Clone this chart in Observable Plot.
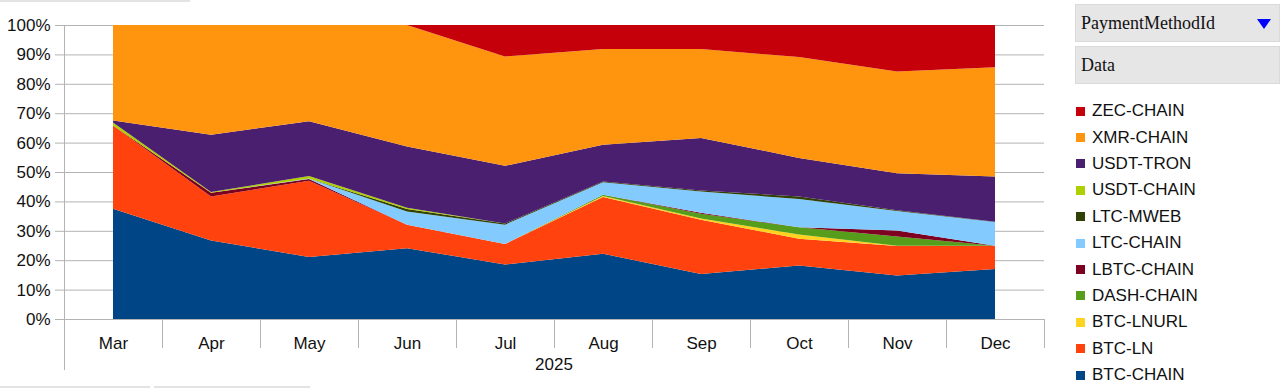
<!DOCTYPE html>
<html>
<head>
<meta charset="utf-8">
<script src="https://cdn.jsdelivr.net/npm/d3@7"></script>
<script src="https://cdn.jsdelivr.net/npm/@observablehq/plot@0.6"></script>
<style>
  html, body { margin: 0; padding: 0; background: #fff; }
  #wrap { position: relative; width: 1285px; height: 390px; overflow: hidden; font-family: "Liberation Sans", Arial, sans-serif; }
  #chart { position: absolute; left: 0; top: 0; }
  .box { position: absolute; left: 1075px; width: 205px; height: 38px; background: #e6e6e6; border: 1px solid #dadada; box-sizing: border-box;
         font-family: "Liberation Serif", serif; font-size: 18px; line-height: 36px; padding-left: 5px; color: #111; }
  .tri { position: absolute; right: 8px; top: 14px; width: 0; height: 0; border-left: 7px solid transparent; border-right: 7px solid transparent; border-top: 10px solid #0000ff; }
  #legend { position: absolute; left: 1076px; top: 98px; }
  .item { height: 26.4px; display: flex; align-items: center; font-size: 17px; color: #111; }
  .sw { width: 9px; height: 9px; margin-right: 7px; flex: none; }
  .art { position: absolute; background: #e3e3e3; }
</style>
</head>
<body>
<div id="wrap">
  <div id="chart"></div>
  <div class="box" style="top:4px">PaymentMethodId<div class="tri"></div></div>
  <div class="box" style="top:46px">Data</div>
  <div id="legend"></div>
  <div class="art" style="left:0;top:0;width:190px;height:2px"></div>
  <div class="art" style="left:0;top:386px;width:150px;height:2px"></div>
  <div class="art" style="left:154px;top:386px;width:156px;height:2px"></div>
</div>
<script>
// Categories
const months = ["Mar","Apr","May","Jun","Jul","Aug","Sep","Oct","Nov","Dec"];
const yearLabel = "2025";
// Series (stack order bottom -> top), percent share per month
const series = ["BTC-CHAIN","BTC-LN","BTC-LNURL","DASH-CHAIN","LBTC-CHAIN","LTC-CHAIN","LTC-MWEB","USDT-CHAIN","USDT-TRON","XMR-CHAIN","ZEC-CHAIN"];
const colors = ["#004586","#ff420e","#ffd320","#579d1c","#7e0021","#83caff","#314004","#aecf00","#4b1f6f","#ff950e","#c5000b"];

const btcChain  = [37.5, 26.7, 21.1, 24.1, 18.5, 22.2, 15.3, 18.2, 14.8, 17.0];
const btcLn     = [28.3, 15.0, 25.9,  8.0,  7.0, 19.3, 18.5,  9.1, 10.0,  7.9];
const btcLnurl  = [ 0,    0,    0,    0,    0,    0.3,  0.4,  1.4,  0.1,  0  ];
const dashChain = [ 0,    0,    0,    0,    0,    0.5,  1.6,  2.5,  3.2,  0  ];
const lbtcChain = [ 0,    1.2,  0.6,  0,    0,    0,    0.3,  0,    2.0,  0  ];
const ltcChain  = [ 0,    0,    0.2,  4.5,  6.6,  4.2,  7.3,  9.6,  6.6,  8.1];
const ltcMweb   = [ 0,    0,    0,    0.8,  0.4,  0.3,  0.3,  0.9,  0.3,  0.1];
const usdtChain = [ 1.0,  0.3,  0.8,  0.4,  0,    0,    0,    0,    0,    0  ];
const usdtTron  = [ 0.7, 19.5, 18.7, 20.9, 19.6, 12.5, 17.9, 13.1, 12.6, 15.4];
const xmrChain  = [32.5, 37.3, 32.7, 41.3, 37.2, 32.5, 30.2, 34.3, 34.6, 37.1];
const zecChain  = [ 0,    0,    0,    0,   10.7,  8.2,  8.2, 10.9, 15.8, 14.4];

const yTicks = [0,0.1,0.2,0.3,0.4,0.5,0.6,0.7,0.8,0.9,1];

const valuesBySeries = [btcChain, btcLn, btcLnurl, dashChain, lbtcChain, ltcChain, ltcMweb, usdtChain, usdtTron, xmrChain, zecChain];
const data = [];
series.forEach((s, i) => months.forEach((m, j) => data.push({series: s, month: m, value: valuesBySeries[i][j]})));

const grid = "#b3b3b3";

function decor(index, scales, values, dims) {
  const g = d3.create("svg:g").attr("stroke", grid).attr("stroke-width", 1);
  const xs = months.map(m => scales.x(m));
  const step = xs[1] - xs[0];
  const bounds = [...xs.map(x => x - step / 2), xs[xs.length - 1] + step / 2];
  const y0 = dims.height - dims.marginBottom;
  bounds.forEach((b, i) => {
    const bx = Math.round(b) + 0.5;
    g.append("line").attr("x1", bx).attr("x2", bx)
      .attr("y1", i === 0 ? dims.marginTop : y0).attr("y2", i === 0 ? y0 + 51 : y0 + 29);
  });
  return g.node();
}

const chart = Plot.plot({
  width: 1050,
  height: 375,
  marginLeft: 63,
  marginRight: 6,
  marginTop: 25,
  marginBottom: 56,
  style: {fontFamily: "'Liberation Sans', Arial, sans-serif", fontSize: "17px", color: "#111", background: "transparent", overflow: "visible"},
  x: {type: "point", domain: months, padding: 0.5, label: null},
  y: {domain: [0, 1], label: null},
  color: {domain: series, range: colors},
  marks: [
    Plot.gridY(yTicks, {stroke: grid, strokeOpacity: 1}),
    Plot.areaY(data, Plot.stackY({x: "month", y: "value", fill: "series", order: series, offset: "normalize"})),
    Plot.axisY(yTicks, {tickSize: 8, tickPadding: 5, stroke: grid, tickFormat: d => Math.round(d * 100) + "%", label: null}),
    Plot.axisX({tickSize: 0, tickPadding: 17, label: null}),
    Plot.axisX({ticks: [], tickSize: 0, label: yearLabel, labelAnchor: "center", labelOffset: 50}),
    Plot.ruleY([0], {stroke: grid}),
    decor
  ]
});
document.getElementById("chart").appendChild(chart);

const legend = document.getElementById("legend");
series.slice().reverse().forEach((s) => {
  const c = colors[series.indexOf(s)];
  const row = document.createElement("div");
  row.className = "item";
  row.innerHTML = `<span class="sw" style="background:${c}"></span><span>${s}</span>`;
  legend.appendChild(row);
});
</script>
</body>
</html>
